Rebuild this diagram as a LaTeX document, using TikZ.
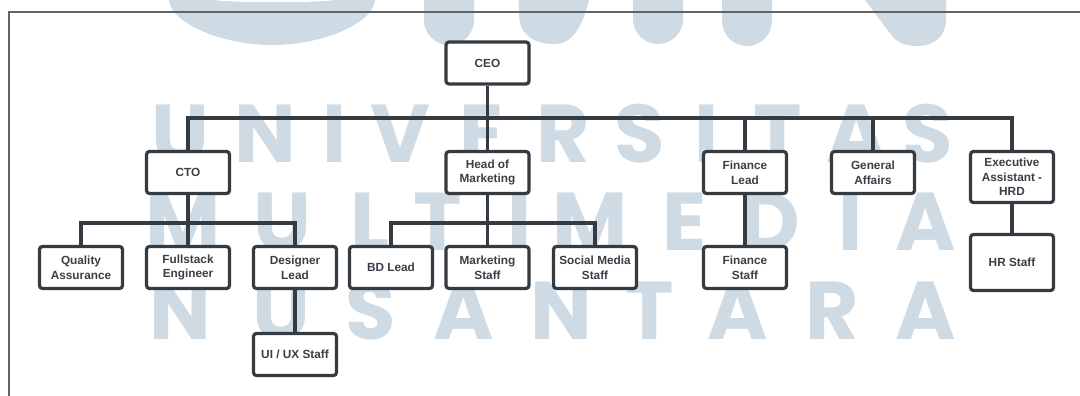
\documentclass[tikz,border=0pt]{standalone}
\usepackage{fontspec}
\setmainfont{Liberation Sans}
\newfontfamily\wmfont{Poppins}
\definecolor{linec}{RGB}{54,59,66}
\definecolor{textc}{RGB}{58,63,71}
\definecolor{wmc}{RGB}{206,218,228}
\definecolor{framec}{RGB}{100,100,100}
\tikzset{
  orgbox/.style={draw=linec, line width=3.2pt, rounded corners=3pt, fill=white,
    minimum width=83pt, minimum height=42pt, inner sep=2pt, align=center,
    text=textc, font=\bfseries\fontsize{11.8}{14.6}\selectfont},
  conn/.style={draw=linec, line width=3.2pt},
  wm/.style={text=wmc, inner sep=0pt, anchor=base, font=\wmfont\bfseries\fontsize{82}{82}\selectfont}
}
\begin{document}
\begin{tikzpicture}[x=1pt,y=-1pt]
\useasboundingbox (0,0) rectangle (1080,396);
\fill[white] (0,0) rectangle (1080,396);
% watermark logo (top)
\fill[wmc] (169,-30) -- (169,0) .. controls (172,25) and (225,45) .. (272,45)
  .. controls (320,45) and (372,25) .. (375,0) -- (375,-30) -- cycle;
\fill[white] (214,-30) -- (214,0) .. controls (235,3) and (315,3) .. (334,0) -- (334,-30) -- cycle;
\fill[wmc] (424,-30) -- (424,20) arc[start angle=180, end angle=360, radius=25pt] -- (474,-30) -- cycle;
\fill[wmc] (518,-30) -- (519,15) .. controls (520,36) and (535,44) .. (554,44)
  .. controls (572,44) and (582,28) .. (589,0) -- (590,-30) -- cycle;
\fill[wmc] (633,-30) -- (633,19) arc[start angle=180, end angle=360, radius=25pt] -- (683,-30) -- cycle;
\fill[wmc] (722,-30) -- (722,21) arc[start angle=180, end angle=360, radius=25pt] -- (772,-30) -- cycle;
\fill[wmc] (865,-30) -- (865,0) -- (892,36) .. controls (898,43) and (906,46) .. (917,46)
  .. controls (935,46) and (946,35) .. (946,20) -- (946,-30) -- cycle;
% watermark text
\foreach \x/\l in {180/U,265.5/N,335/I,400/V,482/E,563/R,640/S,707/I,778/T,856.5/A,927.5/S}
  {\node[wm] at (\x,162) {\l};}
\foreach \x/\l in {183/M,282/U,370/L,437.5/T,520/I,590/M,685/E,770/D,850.5/I,925.5/A}
  {\node[wm] at (\x,250) {\l};}
\foreach \x/\l in {180/N,281/U,371/S,463.5/A,561/N,650/T,738/A,832/R,925.5/A}
  {\node[wm] at (\x,339) {\l};}
% frame
\draw[framec, line width=1.5pt] (9,400) -- (9,12) -- (1085,12);
% nodes
\node[orgbox] (ceo) at (487.5,63) {CEO};
\node[orgbox] (cto) at (188,172.5) {CTO};
\node[orgbox] (hom) at (487.5,172.5) {Head of\\Marketing};
\node[orgbox] (fl) at (745,172.5) {Finance\\Lead};
\node[orgbox] (ga) at (873,172.5) {General\\Affairs};
\node[orgbox, minimum height=51pt] (exec) at (1012,177) {Executive\\Assistant -\\HRD};
\node[orgbox] (qa) at (81,267.5) {Quality\\Assurance};
\node[orgbox] (fs) at (188,267.5) {Fullstack\\Engineer};
\node[orgbox] (dl) at (295,267.5) {Designer\\Lead};
\node[orgbox] (ux) at (295,354.5) {UI / UX Staff};
\node[orgbox] (bd) at (391,267.5) {BD Lead};
\node[orgbox] (ms) at (487.5,267.5) {Marketing\\Staff};
\node[orgbox] (sms) at (595,267.5) {Social Media\\Staff};
\node[orgbox] (fst) at (745,267.5) {Finance\\Staff};
\node[orgbox, minimum height=56pt] (hr) at (1012,262.5) {HR Staff};
% connectors
\coordinate (b1) at (0,118);
\coordinate (b2) at (0,223);
\draw[conn] (ceo.south) -- (hom.north);
\draw[conn] (cto.north) |- (b1 -| exec) -- (exec.north);
\draw[conn] (fl.north) -- (fl.north |- b1);
\draw[conn] (ga.north) -- (ga.north |- b1);
\draw[conn] (qa.north) |- (b2 -| dl) -- (dl.north);
\draw[conn] (cto.south) -- (fs.north);
\draw[conn] (dl.south) -- (ux.north);
\draw[conn] (bd.north) |- (b2 -| sms) -- (sms.north);
\draw[conn] (hom.south) -- (ms.north);
\draw[conn] (fl.south) -- (fst.north);
\draw[conn] (exec.south) -- (hr.north);
\end{tikzpicture}
\end{document}
